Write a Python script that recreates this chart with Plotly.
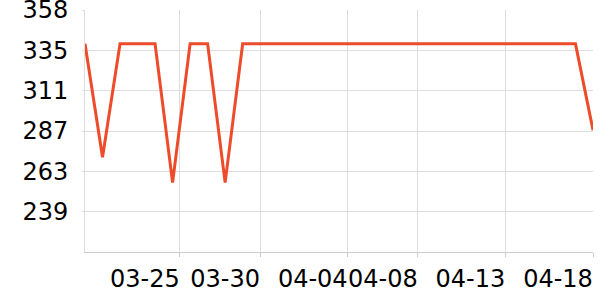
import math
import plotly.graph_objects as go
import pandas as pd

dates = pd.date_range("2020-03-20", "2020-04-18", freq="D").strftime("%Y-%m-%d").tolist()
values = [338, 271, 338, 338, 338, 256, 338, 338, 256, 338,
          338, 338, 338, 338, 338, 338, 338, 338, 338, 338,
          338, 338, 338, 338, 338, 338, 338, 338, 338, 287]

x_tick_vals = ["2020-03-25 10:00", "2020-03-30", "2020-04-04", "2020-04-08", "2020-04-13", "2020-04-18"]
x_tick_text = ["03-25", "03-30", "04-04", "04-08", "04-13", "04-18"]

y_min, y_max = 215, 358
n_split = 6
y_tick_vals = [y_min + k * (y_max - y_min) / n_split for k in range(1, n_split)] + [y_max]
y_tick_text = [str(math.ceil(v - 1e-9)) for v in y_tick_vals]

fig = go.Figure()
fig.add_trace(go.Scatter(
    x=dates, y=values, mode="lines",
    line=dict(color="#EE4B2B", width=3),
    hoverinfo="skip",
))

fig.update_layout(
    width=600, height=300,
    margin=dict(l=85, r=7, t=10, b=48),
    paper_bgcolor="white", plot_bgcolor="white",
    showlegend=False,
    font=dict(family="DejaVu Sans", size=24, color="black"),
)
fig.update_xaxes(
    type="date",
    range=[dates[0], dates[-1]],
    tickvals=x_tick_vals, ticktext=x_tick_text,
    tickangle=0, automargin=False, ticklabeloverflow="allow",
    showgrid=True, gridcolor="#dddddd", gridwidth=1,
    showline=True, linecolor="#cccccc", linewidth=1,
    ticks="outside", ticklen=4, tickcolor="#cccccc",
    ticklabelshift=-35, ticklabelstandoff=1,
    zeroline=False,
)
fig.update_yaxes(
    range=[y_min, y_max + 0.001],
    tickvals=y_tick_vals, ticktext=y_tick_text,
    automargin=False, ticklabeloverflow="allow",
    showgrid=True, gridcolor="#dddddd", gridwidth=1,
    showline=True, linecolor="#dddddd", linewidth=1,
    ticks="outside", ticklen=2, tickcolor="#dddddd",
    ticklabelstandoff=9,
    zeroline=False,
)

fig.write_html("out.html")
